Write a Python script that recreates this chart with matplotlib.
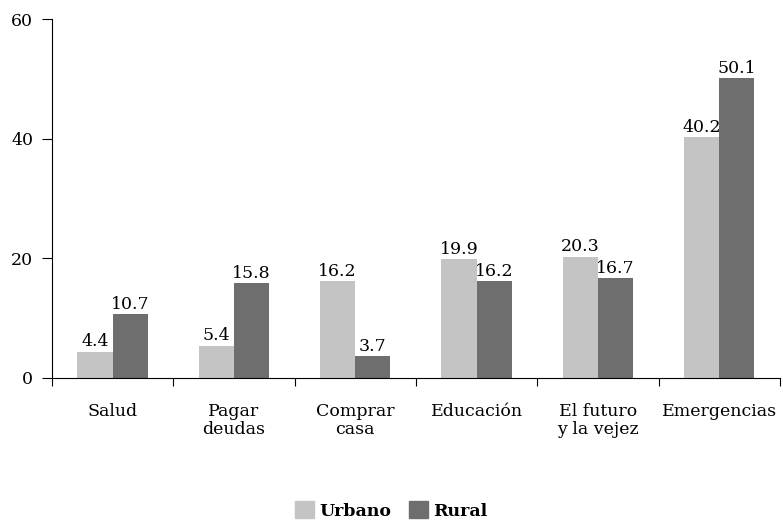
import matplotlib
matplotlib.use("Agg")
import matplotlib.pyplot as plt
import numpy as np
from matplotlib.patches import Patch

categories = ["Salud", "Pagar\ndeudas", "Comprar\ncasa", "Educación", "El futuro\ny la vejez", "Emergencias"]
urbano = [4.4, 5.4, 16.2, 19.9, 20.3, 40.2]
rural = [10.7, 15.8, 3.7, 16.2, 16.7, 50.1]
yticks = [0, 20, 40, 60]

plt.rcParams['font.family'] = ['DejaVu Serif']
c_urb = "#c4c4c4"
c_rur = "#6e6e6e"
FS = 12.5

fig = plt.figure(figsize=(7.83, 5.21), dpi=100)
ax = fig.add_axes([0.0664, 0.2745, 0.9296, 0.689])

x = np.arange(len(categories))
w = 0.29
b1 = ax.bar(x - w/2, urbano, w, color=c_urb)
b2 = ax.bar(x + w/2, rural, w, color=c_rur)
for bars, vals in ((b1, urbano), (b2, rural)):
    for r, v in zip(bars, vals):
        ax.text(r.get_x() + r.get_width()/2, v + 0.2, f"{v:.1f}", ha="center", va="bottom", fontsize=FS)

ax.set_xlim(-0.5, len(categories) - 0.5)
ax.set_ylim(0, 60)
ax.set_yticks(yticks)
ax.set_yticklabels([str(t) for t in yticks], fontsize=FS)
ax.set_xticks(np.arange(len(categories) + 1) - 0.5)
ax.set_xticklabels([])
ax.set_xticks(x, minor=True)
ax.set_xticklabels(categories, minor=True, fontsize=FS, linespacing=1.1, va="top")
ax.tick_params(axis="x", which="minor", length=0, pad=18)
ax.tick_params(axis="x", which="major", length=6, direction="out")
ax.tick_params(axis="y", length=7, direction="out", pad=6.5)
for s in ("top", "right"):
    ax.spines[s].set_visible(False)

handles = [Patch(color=c_urb, label="Urbano"), Patch(color=c_rur, label="Rural")]
leg = fig.legend(handles=handles, loc="center", bbox_to_anchor=(0.5, 0.02), ncol=2, frameon=False,
                 prop={"weight": "bold", "size": 12.5}, handlelength=1.1, handleheight=1.1,
                 handletextpad=0.3, columnspacing=1.0)

fig.savefig("out.png", dpi=100)
